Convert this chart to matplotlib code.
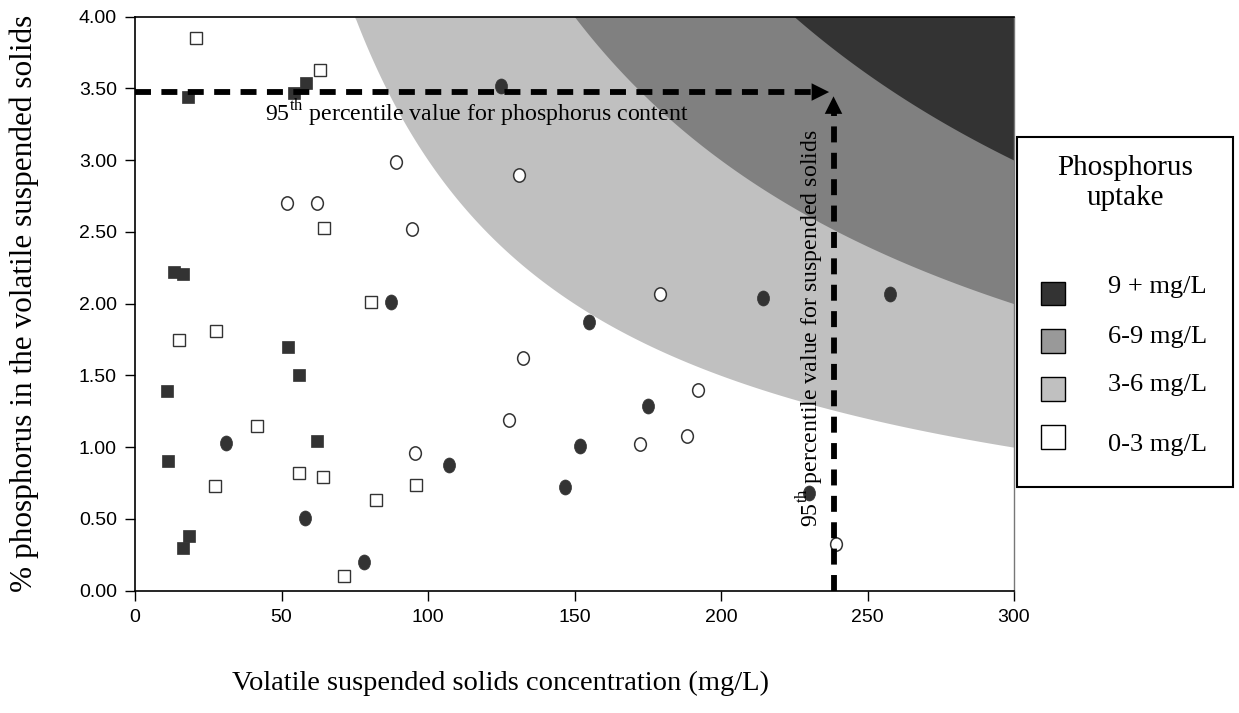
import numpy as np
import matplotlib
matplotlib.use("Agg")
import matplotlib.pyplot as plt
from matplotlib.path import Path
from matplotlib.patches import Rectangle
from matplotlib.transforms import Affine2D

plt.rcParams['mathtext.fontset'] = 'custom'
plt.rcParams['mathtext.rm'] = 'Liberation Serif'

# data: VSS (mg/L) vs % P in VSS
filled_sq_x = [18.0, 54.2, 58.5, 13.3, 16.5, 52.1, 56.0, 11.0, 62.2, 11.4, 18.4, 16.5]
filled_sq_y = [3.44, 3.47, 3.54, 2.22, 2.21, 1.70, 1.50, 1.39, 1.04, 0.905, 0.38, 0.30]

open_sq_x = [20.7, 63.1, 64.4, 80.7, 27.6, 15.0, 41.5, 56.0, 64.1, 95.8, 27.4, 82.1, 71.5]
open_sq_y = [3.85, 3.63, 2.53, 2.01, 1.81, 1.75, 1.15, 0.82, 0.79, 0.74, 0.73, 0.63, 0.105]

filled_ci_x = [125.0, 87.5, 214.5, 257.6, 155.1, 175.0, 31.0, 107.3, 152.0, 146.8, 229.9, 58.0, 78.1]
filled_ci_y = [3.52, 2.01, 2.04, 2.07, 1.87, 1.29, 1.03, 0.875, 1.01, 0.72, 0.68, 0.51, 0.20]

open_ci_x = [89.0, 51.9, 62.2, 94.5, 130.9, 179.2, 132.3, 192.1, 127.7, 188.4, 172.4, 95.5, 239.2]
open_ci_y = [2.99, 2.70, 2.70, 2.52, 2.90, 2.07, 1.62, 1.40, 1.19, 1.075, 1.02, 0.96, 0.326]

# phosphorus uptake bands (mg/L) = VSS * %P / 100
uptake_levels = [3, 6, 9]
band_colors = ['#c0c0c0', '#808080', '#333333']
legend_labels = ['9 + mg/L', '6-9 mg/L', '3-6 mg/L', '0-3 mg/L']
legend_colors = ['#333333', '#999999', '#c0c0c0', '#ffffff']

p95_phosphorus = 3.475
p95_solids = 238.4

serif = 'Liberation Serif'
sans = 'Liberation Sans'
dark = '#333333'

W, H = 1239, 713
def fx(px):
    return px / W
def fy(py):
    return 1 - py / H

fig = plt.figure(figsize=(12.39, 7.13), dpi=100)
ax = fig.add_axes([fx(135), fy(590.7), (1014 - 135) / W, (590.7 - 16.7) / H])

xx = np.linspace(1, 300, 600)
for lev, col in zip(uptake_levels, band_colors):
    ax.fill_between(xx, np.minimum(100 * lev / xx, 4), 4, color=col, lw=0, zorder=1)

ell = Path.unit_circle().transformed(Affine2D().scale(0.8, 1.0))
ell_open = Path.unit_circle().transformed(Affine2D().scale(0.88, 1.0))
ms_sq = 9.0
ax.plot(filled_sq_x, filled_sq_y, 's', ms=ms_sq, color=dark, mec=dark, mew=0.5, zorder=4)
ax.plot(open_sq_x, open_sq_y, 's', ms=ms_sq, mfc='white', mec=dark, mew=1.0, zorder=4)
ax.plot(filled_ci_x, filled_ci_y, ls='none', marker=ell, ms=10.8, color=dark, mec=dark, mew=0.5, zorder=4)
ax.plot(open_ci_x, open_ci_y, ls='none', marker=ell_open, ms=9.6, mfc='white', mec=dark, mew=1.1, zorder=4)

# 95th percentile dashed arrows
lw = 4.2
ax.plot([0, p95_solids - 4], [p95_phosphorus, p95_phosphorus], color='k', lw=lw,
        dashes=(11.5 / lw, 7.5 / lw), dash_capstyle='butt', zorder=5)
ax.plot([p95_solids, p95_solids], [0, p95_phosphorus - 0.1], color='k', lw=lw,
        dashes=(11.5 / lw, 7.5 / lw), dash_capstyle='butt', zorder=5)
ax.annotate('', xy=(p95_solids - 1.5, p95_phosphorus), xytext=(p95_solids - 6, p95_phosphorus),
            arrowprops=dict(arrowstyle='-|>,head_length=0.9,head_width=0.45', color='k',
                            lw=0, shrinkA=0, shrinkB=0, mutation_scale=14), zorder=6)
ax.annotate('', xy=(p95_solids, p95_phosphorus - 0.03), xytext=(p95_solids, p95_phosphorus - 0.15),
            arrowprops=dict(arrowstyle='-|>,head_length=0.9,head_width=0.45', color='k',
                            lw=0, shrinkA=0, shrinkB=0, mutation_scale=14), zorder=6)

ax.text(44.5, 3.33, r'95$^{\mathrm{th}}$ percentile value for phosphorus content',
        family=serif, fontsize=17.2, va='center', ha='left', zorder=7)
ax.text(230.5, 1.83, r'95$^{\mathrm{th}}$ percentile value for suspended solids',
        family=serif, fontsize=17.2, va='center', ha='center', rotation=90, zorder=7)

ax.set_xlim(0, 300)
ax.set_ylim(0, 4)
ax.set_xticks(np.arange(0, 301, 50))
ax.set_yticks(np.arange(0, 4.01, 0.5))
ax.set_yticklabels(['%.2f' % v for v in np.arange(0, 4.01, 0.5)])
ax.tick_params(direction='out', length=7, width=1, labelsize=14, pad=6)
for lab in ax.get_xticklabels() + ax.get_yticklabels():
    lab.set_family(sans)
for s in ['left', 'bottom', 'top']:
    ax.spines[s].set_color('k')
    ax.spines[s].set_linewidth(1.2)
ax.spines['right'].set_color('#777777')
ax.spines['right'].set_linewidth(1)

fig.text(fx(500), fy(683), 'Volatile suspended solids concentration (mg/L)',
         family=serif, fontsize=20.5, ha='center', va='center')
fig.text(fx(24), fy(303), '% phosphorus in the volatile suspended solids',
         family=serif, fontsize=22.5, ha='center', va='center', rotation=90)

# legend box drawn in figure pixels
fig.patches.append(Rectangle((fx(1016.7), fy(487.3)), fx(1232.7) - fx(1016.7), fy(137.3) - fy(487.3),
                             transform=fig.transFigure, facecolor='white', edgecolor='k', lw=1.5, zorder=10))
fig.text(fx(1125), fy(183), 'Phosphorus\nuptake', family=serif, fontsize=21,
         ha='center', va='center', linespacing=1.2, zorder=11)
patch_tops = [281.7, 329.0, 377.0, 425.0]
label_ys = [286.7, 336.7, 385.0, 445.0]
for lab, col, ptop, ly in zip(legend_labels, legend_colors, patch_tops, label_ys):
    fig.patches.append(Rectangle((fx(1040.7), fy(ptop + 23.5)), fx(24.5), 23.5 / H,
                                 transform=fig.transFigure, facecolor=col, edgecolor='k', lw=1.0, zorder=11))
    fig.text(fx(1108), fy(ly), lab, family=serif, fontsize=19, ha='left', va='center', zorder=11)

fig.savefig('out.png', dpi=100)
